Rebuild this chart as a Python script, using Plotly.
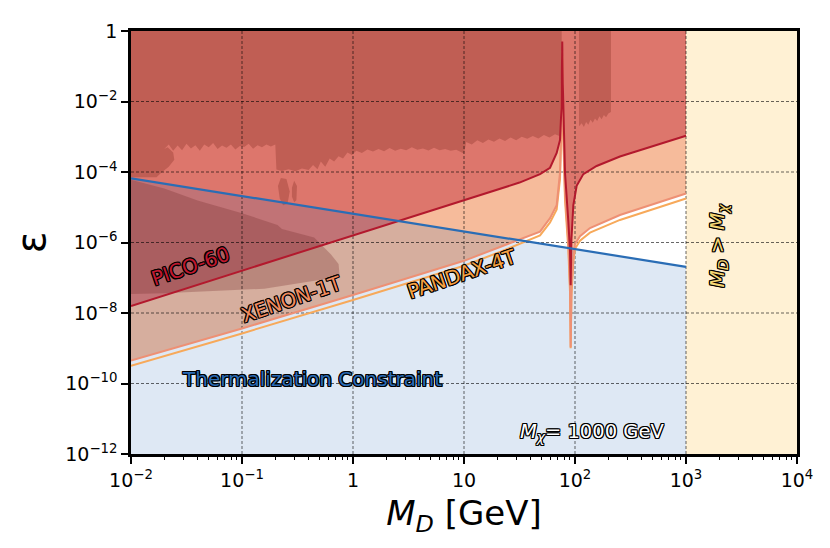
import numpy as np
import plotly.graph_objects as go

# values, stored as log10(M_D / GeV) and log10(epsilon)
thermal_logm = [-2.0, 3.0]
thermal_logeps = [-4.18, -6.69]

pico_logm = [-2.0, 0.0, 1.0, 1.5, 1.685, 1.775, 1.835, 1.865, 1.878, 1.885, 1.89, 1.90,
             1.91, 1.94, 1.955, 1.961, 1.968, 1.985, 2.015, 2.075, 2.195, 2.405, 3.0]
pico_logeps = [-7.80, -5.80, -4.80, -4.30, -4.06, -3.88, -3.46, -3.09, -2.17, -0.30, -1.5, -3.0,
               -4.02, -5.41, -6.24, -7.21, -5.9, -4.94, -4.39, -4.06, -3.83, -3.56, -2.97]

xenon_logm = [-2.0, -1.0, 0.0, 1.0, 1.33, 1.685, 1.775, 1.835, 1.865, 1.878, 1.885, 1.892,
              1.91, 1.94, 1.955, 1.961, 1.968, 1.985, 2.0, 2.045, 2.135, 2.405, 3.0]
xenon_logeps = [-9.35, -8.44, -7.49, -6.52, -6.12, -5.69, -5.31, -4.94, -4.02, -2.5, -0.55, -2.5,
                -4.6, -6.0, -7.2, -8.97, -7.3, -6.42, -6.05, -5.82, -5.59, -5.22, -4.61]

pandax_logm = [-2.0, -1.0, 0.0, 1.0, 1.33, 1.685, 1.775, 1.835, 1.865, 1.878, 1.885, 1.892,
               1.91, 1.94, 1.955, 1.961, 1.968, 1.985, 2.0, 2.045, 2.135, 2.405, 3.0]
pandax_logeps = [-9.50, -8.58, -7.63, -6.66, -6.26, -5.80, -5.43, -5.06, -4.20, -2.7, -0.7, -2.7,
                 -4.8, -6.2, -7.4, -9.0, -7.5, -6.55, -6.18, -5.95, -5.72, -5.36, -4.75]

# jagged upper exclusion (two pieces)
dark_a_logm = [-2.0, -1.77, -1.73, -1.66, -1.61, -1.62, -1.67, -1.70, -1.66, -1.62, -1.58, -1.54,
               -1.50, -1.46, -1.42, -1.38, -1.34, -1.30, -1.26, -1.22, -1.18, -1.14, -1.10, -1.06,
               -1.02, -0.98, -0.94, -0.90, -0.86, -0.82, -0.78, -0.74, -0.70, -0.69, -0.64, -0.58,
               -0.52, -0.46, -0.40, -0.36, -0.32, -0.29, -0.25, -0.21, -0.17, -0.13, -0.09, -0.05,
               -0.01, 0.03, 0.08, 0.13, 0.18, 0.23, 0.28, 0.33, 0.38, 0.43, 0.48, 0.53, 0.58, 0.63,
               0.68, 0.73, 0.78, 0.83, 0.88, 0.93, 0.98, 1.00, 1.02, 1.07, 1.12, 1.17, 1.22, 1.27,
               1.32, 1.37, 1.42, 1.47, 1.52, 1.57, 1.62, 1.67, 1.72, 1.77, 1.82, 1.86, 1.88, 1.88, -2.0]
dark_a_logeps = [-4.15, -4.15, -4.03, -3.85, -3.65, -3.45, -3.30, -3.35, -3.22, -3.40, -3.25, -3.38,
                 -3.20, -3.33, -3.24, -3.40, -3.22, -3.30, -3.18, -3.35, -3.25, -3.31, -3.22, -3.36,
                 -3.26, -3.29, -3.20, -3.34, -3.24, -3.30, -3.22, -3.28, -3.22, -3.93, -3.97, -3.92,
                 -3.98, -3.90, -3.94, -3.80, -3.92, -3.70, -3.85, -3.62, -3.70, -3.55, -3.62, -3.45,
                 -3.52, -3.40, -3.46, -3.36, -3.42, -3.35, -3.41, -3.32, -3.40, -3.34, -3.38, -3.30,
                 -3.37, -3.33, -3.39, -3.31, -3.38, -3.35, -3.40, -3.37, -3.45, -3.48, -3.15, -3.22,
                 -3.10, -3.18, -3.08, -3.14, -3.05, -3.12, -3.02, -3.10, -3.00, -3.06, -2.98, -3.05,
                 -2.95, -3.02, -2.93, -2.98, -2.90, 0.0, 0.0]
dark_b_logm = [2.036, 2.06, 2.08, 2.10, 2.12, 2.14, 2.16, 2.18, 2.20, 2.22, 2.24, 2.26, 2.28, 2.30,
               2.324, 2.324, 2.036]
dark_b_logeps = [-2.70, -2.62, -2.72, -2.58, -2.66, -2.52, -2.60, -2.48, -2.55, -2.42, -2.50, -2.38,
                 -2.45, -2.34, -2.30, 0.0, 0.0]
blob1_logm = [-0.676, -0.65, -0.60, -0.57, -0.59, -0.63, -0.66]
blob1_logeps = [-4.40, -4.17, -4.20, -4.55, -4.90, -4.94, -4.75]
blob2_logm = [-0.55, -0.53, -0.505, -0.51, -0.53, -0.55]
blob2_logeps = [-4.45, -4.25, -4.40, -4.80, -4.86, -4.70]

# brownish low-mass region
brown_logm = [-2.0, -1.70, -1.40, -1.00, -0.68, -0.64, -0.35, -0.20, -0.13, -0.12, -0.80, -1.70, -2.0]
brown_logeps = [-4.22, -4.47, -4.81, -5.17, -5.50, -5.62, -5.86, -6.33, -6.61, -6.97, -7.31, -7.44, -7.46]

mx_region_m = [1e3, 1e4]
x_decades = [1e-2, 1e-1, 1, 10, 1e2, 1e3, 1e4]
x_ticktext = ["10<sup>−2</sup>", "10<sup>−1</sup>", "1", "10", "10<sup>2</sup>", "10<sup>3</sup>", "10<sup>4</sup>"]
y_ticks = [1e-12, 1e-10, 1e-8, 1e-6, 1e-4, 1e-2, 1]
y_ticktext = ["10<sup>−12</sup>", "10<sup>−10</sup>", "10<sup>−8</sup>", "10<sup>−6</sup>",
              "10<sup>−4</sup>", "10<sup>−2</sup>", "1"]

XMIN, XMAX, YMIN, YMAX = 1e-2, 1e4, 1e-12, 1.0
FONT = "DejaVu Sans"
OUTLINE = ("1px 1px 0 #000, -1px -1px 0 #000, 1px -1px 0 #000, -1px 1px 0 #000, "
           "1px 0 0 #000, -1px 0 0 #000, 0 1px 0 #000, 0 -1px 0 #000")


def p(v):
    return list(np.power(10.0, v))


def region(x, y, color):
    return go.Scatter(x=x, y=y, mode="lines", fill="toself", fillcolor=color,
                      line=dict(width=0), hoverinfo="skip", showlegend=False)


def curve(x, y, color, w=2.2):
    return go.Scatter(x=x, y=y, mode="lines", line=dict(color=color, width=w),
                      hoverinfo="skip", showlegend=False)


fig = go.Figure()

# M_D > M_X region
fig.add_trace(region([mx_region_m[0], mx_region_m[1], mx_region_m[1], mx_region_m[0]],
                     [YMIN, YMIN, YMAX, YMAX], "#fff1d4"))

# direct detection regions
fig.add_trace(region(p(xenon_logm) + [1e3, XMIN], p(xenon_logeps) + [YMAX, YMAX], "#f6bb9b"))
fig.add_trace(region(p(pico_logm) + [1e3, XMIN], p(pico_logeps) + [YMAX, YMAX], "#dd766c"))
fig.add_trace(region(p(dark_a_logm), p(dark_a_logeps), "#c05e54"))
fig.add_trace(region(p(dark_b_logm), p(dark_b_logeps), "#c05e54"))
fig.add_trace(region(p(blob1_logm), p(blob1_logeps), "#c05e54"))
fig.add_trace(region(p(blob2_logm), p(blob2_logeps), "#c05e54"))

# thermalization constraint (translucent, below the blue line)
th_m = p(thermal_logm)
th_e = p(thermal_logeps)
fig.add_trace(region([th_m[0]] + th_m + [th_m[-1]], [YMIN] + th_e + [YMIN], "rgba(31,100,180,0.15)"))

fig.add_trace(region(p(brown_logm), p(brown_logeps), "rgba(120,45,45,0.3)"))

# dashed grid on top of the fills
gx, gy = [], []
for v in x_decades[1:-1]:
    gx += [v, v, None]
    gy += [YMIN, YMAX, None]
for v in y_ticks[1:-1]:
    gx += [XMIN, XMAX, None]
    gy += [v, v, None]
fig.add_trace(go.Scatter(x=gx, y=gy, mode="lines", hoverinfo="skip", showlegend=False,
                         line=dict(color="rgba(0,0,0,0.75)", width=0.8, dash="3px,2px")))

fig.add_trace(curve(p(pandax_logm), p(pandax_logeps), "#f7a95a", 2.0))
fig.add_trace(curve(p(xenon_logm), p(xenon_logeps), "#ee9074", 2.0))
fig.add_trace(curve(p(pico_logm), p(pico_logeps), "#b3192d", 2.0))
fig.add_trace(curve(th_m, th_e, "#2a6db5", 2.2))


def label(text, lx, ly, color, size, angle=0):
    fig.add_annotation(x=lx, y=ly, xref="x", yref="y", text=text, showarrow=False,
                       textangle=angle,
                       font=dict(family=FONT, size=size, color=color, shadow=OUTLINE))


label("PICO-60", -1.46, -6.67, "#c0182f", 20, -19)
label("XENON-1T", -0.55, -7.60, "#f08a5d", 20, -19)
label("PANDAX-4T", 0.98, -6.89, "#f5a142", 20, -19)
label("Thermalization Constraint", -0.37, -9.86, "#2a6bb5", 20)
label("<i>M</i><sub><i>χ</i></sub>= 1000 GeV", 2.15, -11.39, "#ffffff", 19.5)
label("<i>M</i><sub><i>D</i></sub> > <i>M</i><sub><i>χ</i></sub>", 3.284, -6.10, "#f7d774", 20, -90)

# the page body adds ~8px on the left/top, margins are shifted to compensate
fig.update_xaxes(type="log", range=[-2, 4], tickvals=x_decades, ticktext=x_ticktext,
                 showgrid=False, zeroline=False, showline=True, linewidth=2.5,
                 linecolor="black", mirror=True, ticks="outside", ticklen=7, tickwidth=2,
                 tickcolor="black", tickfont=dict(family=FONT, size=19, color="black"),
                 minor=dict(ticks="outside", ticklen=3.5, tickwidth=1, tickcolor="black",
                            showgrid=False,
                            tickvals=[k * d for d in x_decades[:-1] for k in range(2, 10)]),
                 title=dict(text="<i>M</i><sub><i>D</i></sub> [GeV]", standoff=12,
                            font=dict(family=FONT, size=34, color="black")))
fig.update_yaxes(type="log", range=[-12, 0], tickvals=y_ticks, ticktext=y_ticktext,
                 showgrid=False, zeroline=False, showline=True, linewidth=2.5,
                 linecolor="black", mirror=True, ticks="outside", ticklen=7, tickwidth=2,
                 tickcolor="black", tickfont=dict(family=FONT, size=19, color="black"),
                 title=dict(text="ε", standoff=16,
                            font=dict(family=FONT, size=40, color="black")))

fig.update_layout(width=830, height=548, margin=dict(l=123, r=41, t=14, b=102),
                  paper_bgcolor="white", plot_bgcolor="white", showlegend=False)

fig.write_html("out.html")
